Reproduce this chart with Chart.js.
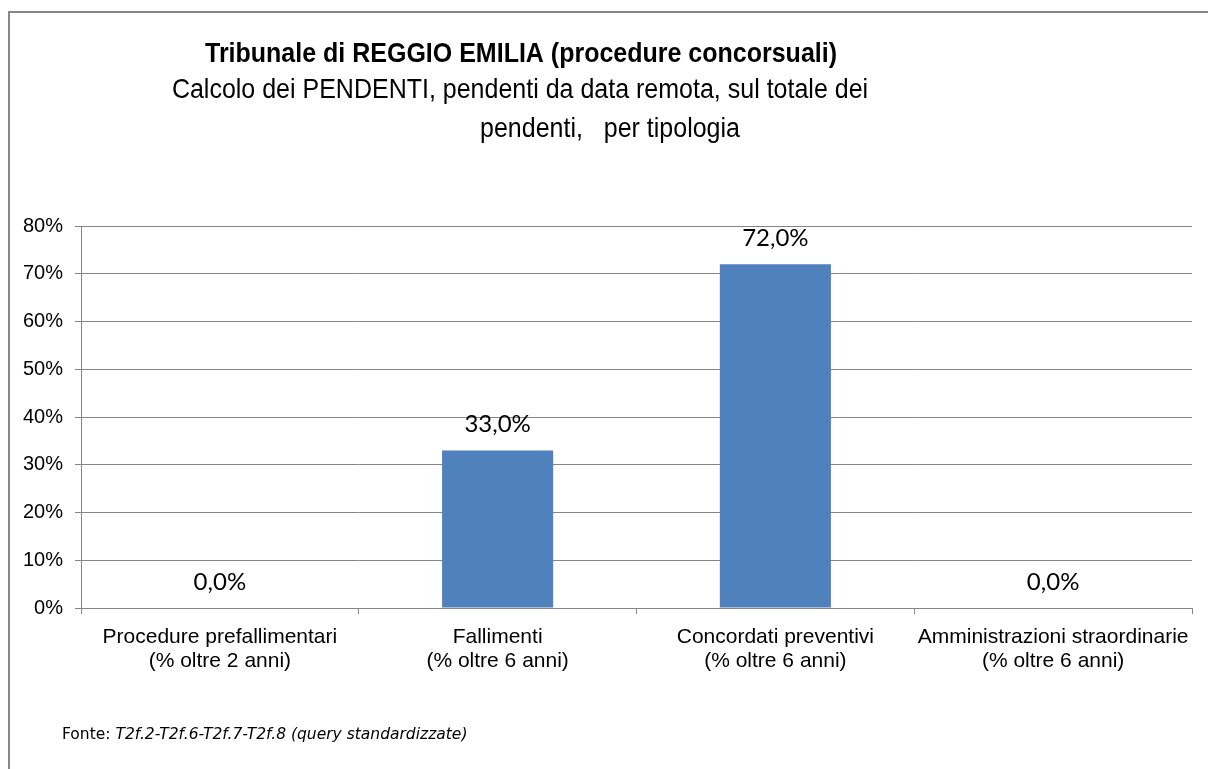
<!DOCTYPE html>
<html>
<head>
<meta charset="utf-8">
<script src="https://cdn.jsdelivr.net/npm/chart.js@4"></script>
<style>
    html, body { margin: 0; padding: 0; background: #fff; }
    #wrap { position: relative; width: 1208px; height: 769px; }
</style>
</head>
<body>
<div id="wrap"><canvas id="chart" width="1208" height="769"></canvas></div>
<script>
const categories = [
    ["Procedure prefallimentari", "(% oltre 2 anni)"],
    ["Fallimenti", "(% oltre 6 anni)"],
    ["Concordati preventivi", "(% oltre 6 anni)"],
    ["Amministrazioni straordinarie", "(% oltre 6 anni)"]
];
const values = [0.0, 33.0, 72.0, 0.0];
const yTicks = [0, 10, 20, 30, 40, 50, 60, 70, 80];

const titleText = "Tribunale di REGGIO EMILIA (procedure concorsuali)";
const subtitleLines = ["Calcolo dei PENDENTI, pendenti da data remota, sul totale dei", "pendenti,   per tipologia"];
const sourceLabel = "Fonte: ";
const sourceText = "T2f.2-T2f.6-T2f.7-T2f.8 (query standardizzate)";

// title text in the reference is slightly taller than plain Arial
function tallText(ctx, text, x, y) {
    ctx.save();
    ctx.translate(x, y);
    ctx.scale(1, 1.1);
    ctx.fillText(text, 0, 0);
    ctx.restore();
}

// frame, titles and footnote drawn around the chart
const decorations = {
    id: "decorations",
    beforeDraw(chart) {
        const ctx = chart.ctx;
        ctx.save();
        ctx.fillStyle = "#fff";
        ctx.fillRect(0, 0, chart.width, chart.height);
        ctx.strokeStyle = "#878787";
        ctx.lineWidth = 2;
        ctx.beginPath();
        ctx.moveTo(9, chart.height + 5);
        ctx.lineTo(9, 12);
        ctx.lineTo(chart.width + 5, 12);
        ctx.stroke();
        ctx.restore();
    },
    afterDraw(chart) {
        const ctx = chart.ctx;
        ctx.save();
        ctx.fillStyle = "#000";
        ctx.textAlign = "center";
        ctx.textBaseline = "alphabetic";
        ctx.font = "bold 25px 'Liberation Sans', Arial, sans-serif";
        tallText(ctx, titleText, 521, 62);
        ctx.font = "25px 'Liberation Sans', Arial, sans-serif";
        tallText(ctx, subtitleLines[0], 520, 98);
        tallText(ctx, subtitleLines[1], 610, 137);

        ctx.textAlign = "left";
        ctx.font = "15.5px 'DejaVu Sans', Verdana, sans-serif";
        ctx.fillText(sourceLabel, 62, 739);
        const w = ctx.measureText(sourceLabel).width;
        ctx.font = "italic 15.5px 'DejaVu Sans', Verdana, sans-serif";
        ctx.fillText(sourceText, 62 + w, 739);
        ctx.restore();
    },
    afterDatasetsDraw(chart) {
        const ctx = chart.ctx;
        const meta = chart.getDatasetMeta(0);
        ctx.save();
        ctx.fillStyle = "#000";
        ctx.textAlign = "center";
        ctx.textBaseline = "alphabetic";
        ctx.font = "24px Lato, 'Open Sans', sans-serif";
        meta.data.forEach((bar, i) => {
            const label = values[i].toFixed(1).replace(".", ",") + "%";
            ctx.fillText(label, bar.x, bar.y - 18);
        });
        ctx.restore();
    }
};

const ctx = document.getElementById("chart").getContext("2d");
new Chart(ctx, {
    type: "bar",
    data: {
        labels: categories,
        datasets: [{
            data: values,
            backgroundColor: "#4F81BD",
            borderWidth: 0,
            categoryPercentage: 1.0,
            barPercentage: 0.4
        }]
    },
    options: {
        responsive: false,
        animation: false,
        layout: {
            padding: { left: 0, top: 226, right: 16, bottom: 0 }
        },
        plugins: {
            legend: { display: false },
            tooltip: { enabled: false }
        },
        scales: {
            x: {
                grid: {
                    offset: true,
                    drawOnChartArea: false,
                    drawTicks: true,
                    tickLength: 6,
                    color: "#868686"
                },
                border: { color: "#868686", width: 1 },
                ticks: {
                    color: "#000",
                    padding: 11,
                    maxRotation: 0,
                    autoSkip: false,
                    font: { family: "'Liberation Sans', Arial, sans-serif", size: 21, lineHeight: 1.15 }
                },
                afterFit(scale) { scale.height = 161; }
            },
            y: {
                min: 0,
                max: 80,
                afterBuildTicks(scale) {
                    scale.ticks = yTicks.map(v => ({ value: v }));
                },
                grid: {
                    color: "#868686",
                    lineWidth: 1,
                    tickLength: 6
                },
                border: { color: "#868686", width: 1 },
                ticks: {
                    color: "#000",
                    padding: 12,
                    callback: v => v + "%",
                    font: { family: "'Liberation Sans', Arial, sans-serif", size: 20 }
                },
                afterFit(scale) { scale.width = 81; }
            }
        }
    },
    plugins: [decorations]
});
</script>
</body>
</html>
